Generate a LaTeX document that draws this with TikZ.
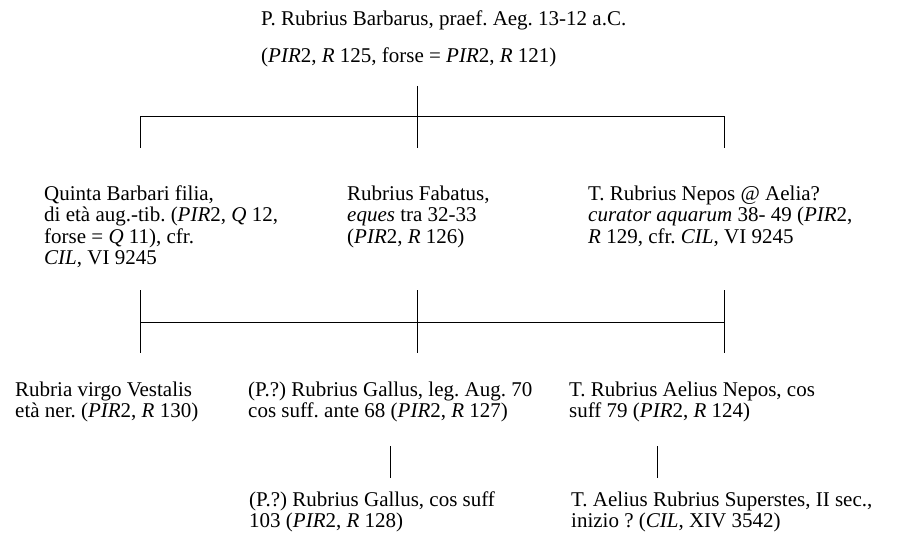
\documentclass[tikz,border=0pt]{standalone}
\usepackage{fontspec}
\setmainfont{Liberation Serif}
\frenchspacing

\begin{document}
\begin{tikzpicture}[x=1pt, y=-1pt,
        person/.style={anchor=north west, inner sep=0pt, align=left, font=\fontsize{21}{21.5}\selectfont},
        link/.style={line width=1pt}
    ]
        \useasboundingbox (0,0) rectangle (901,540);
        % first generation
        \node[person] (barbarus) at (261,10) {\strut P. Rubrius Barbarus, praef. Aeg. 13-12 a.C.\\[15.5pt]
            (\textit{PIR}2, \textit{R} 125, forse = \textit{PIR}2, \textit{R} 121)};
        % second generation
        \node[person] (quinta) at (44,185) {\strut Quinta Barbari filia,\\ di età aug.-tib. (\textit{PIR}2, \textit{Q} 12,\\ forse = \textit{Q} 11), cfr.\\ \textit{CIL}, VI 9245};
        \node[person] (fabatus) at (347,185) {\strut Rubrius Fabatus,\\ \textit{eques} tra 32-33\\ (\textit{PIR}2, \textit{R} 126)};
        \node[person] (nepos) at (588,185) {\strut T. Rubrius Nepos @ Aelia?\\ \textit{curator aquarum} 38- 49 (\textit{PIR}2,\\ \textit{R} 129, cfr. \textit{CIL}, VI 9245};
        % third generation
        \node[person] (vestalis) at (15,381) {\strut Rubria virgo Vestalis\\ età ner. (\textit{PIR}2, \textit{R} 130)};
        \node[person] (gallus) at (248,381) {\strut (P.?) Rubrius Gallus, leg. Aug. 70\\ cos suff. ante 68 (\textit{PIR}2, \textit{R} 127)};
        \node[person] (aelnepos) at (569,381) {\strut T. Rubrius Aelius Nepos, cos\\ suff 79 (\textit{PIR}2, \textit{R} 124)};
        % fourth generation
        \node[person] (gallus2) at (249,491) {\strut (P.?) Rubrius Gallus, cos suff\\ 103 (\textit{PIR}2, \textit{R} 128)};
        \node[person] (superstes) at (571,491) {\strut T. Aelius Rubrius Superstes, II sec.,\\ inizio ? (\textit{CIL}, XIV 3542)};
        % junctions
        \coordinate (stem) at (417,86);
        \coordinate (b1l) at (140,117);
        \coordinate (b1m) at (417,117);
        \coordinate (b1r) at (724,117);
        \coordinate (d1l) at (140,148);
        \coordinate (d1m) at (417,148);
        \coordinate (d1r) at (724,148);
        \coordinate (u2l) at (140,290);
        \coordinate (u2m) at (417,290);
        \coordinate (u2r) at (724,290);
        \coordinate (b2l) at (140,322);
        \coordinate (b2r) at (724,322);
        \coordinate (d2l) at (140,353);
        \coordinate (d2m) at (417,353);
        \coordinate (d2r) at (724,353);
        \coordinate (u3m) at (390,446);
        \coordinate (d3m) at (390,478);
        \coordinate (u3r) at (657,446);
        \coordinate (d3r) at (657,478);
        \draw[link] (stem) -- (b1m);
        \draw[link] (d1l) -- (b1l) -- (b1r) -- (d1r);
        \draw[link] (b1m) -- (d1m);
        \draw[link] (u2l) -- (d2l);
        \draw[link] (u2m) -- (d2m);
        \draw[link] (u2r) -- (d2r);
        \draw[link] (b2l) -- (b2r);
        \draw[link] (u3m) -- (d3m);
        \draw[link] (u3r) -- (d3r);
    \end{tikzpicture}
\end{document}
